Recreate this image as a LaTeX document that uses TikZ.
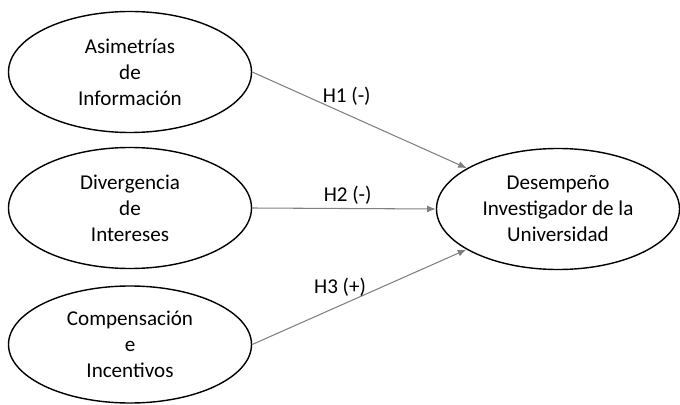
\documentclass[tikz,border=0pt]{standalone}
\usepackage{fontspec}
\setmainfont{Carlito}
\usetikzlibrary{shapes.geometric, arrows.meta, positioning}
\tikzstyle{construct} = [ellipse, draw, line width=0.8pt, minimum width=4.86cm, minimum height=2.42cm, align=center, inner sep=0pt, font=\fontsize{12}{14.8}\selectfont]
\tikzstyle{hyp} = [draw=black!50, line width=0.6pt, -{Latex[length=5pt, width=4pt]}]
\tikzstyle{hyplabel} = [font=\fontsize{12}{14.8}\selectfont, inner sep=2pt]

\begin{document}
\begin{tikzpicture}
        \useasboundingbox (0, 0) rectangle (13.6, 8.08);

        % Independent constructs
        \node[construct] (asim) at (2.6, 6.64) {Asimetrías\\de\\Información};
        \node[construct] (diverg) at (2.6, 3.92) {Divergencia\\de\\Intereses};
        \node[construct, minimum height=2.34cm] (comp) at (2.6, 1.19) {Compensación\\e\\Incentivos};

        % Dependent construct
        \node[construct] (desemp) at (11.16, 3.9) {Desempeño\\Investigador de la\\Universidad};

        % Hypotheses
        \draw[hyp] (asim.east) -- (desemp) node[hyplabel, pos=0.44, above=3pt] {H1 (-)};
        \draw[hyp] (diverg.east) -- (desemp.west) node[hyplabel, pos=0.52, above=0pt] {H2 (-)};
        \draw[hyp] (comp.east) -- (desemp) node[hyplabel, pos=0.41, above=3pt] {H3 (+)};

    \end{tikzpicture}
\end{document}
